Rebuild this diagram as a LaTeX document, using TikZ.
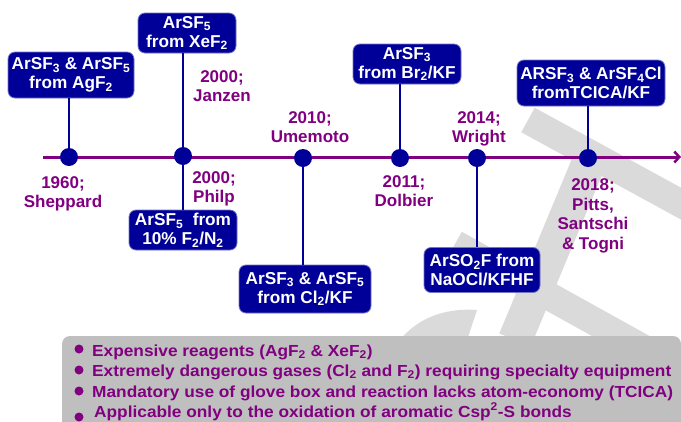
\documentclass[tikz,border=0pt]{standalone}
\usepackage{fontspec}
\setmainfont{Liberation Sans}
\newfontfamily\bulletfont{Liberation Sans}[FakeStretch=1.08]
\usetikzlibrary{arrows.meta}
\definecolor{navy}{RGB}{0,0,153}
\definecolor{purp}{RGB}{128,0,128}
\definecolor{wmgray}{RGB}{218,218,218}
\definecolor{boxgray}{RGB}{191,191,191}
\begin{document}
\begin{tikzpicture}[x=1pt,y=-1pt,
 blk/.style={fill=navy, draw=navy!55!white, line width=0.8pt, rounded corners=7pt, text=white,
   font=\bfseries\fontsize{17.2}{19}\selectfont, align=center, inner sep=0pt},
 yr/.style={text=purp, font=\bfseries\fontsize{17}{19.5}\selectfont, align=center, inner sep=0pt},
 dot/.style={circle, fill=navy, minimum size=18pt, inner sep=0pt},
 conn/.style={navy, line width=2.5pt},
 wm/.style={wmgray, line width=#1},
 bul/.style={circle, fill=purp, minimum size=9pt, inner sep=0pt},
 btxt/.style={text=purp, font=\bulletfont\bfseries\fontsize{16}{19}\selectfont, anchor=base west, inner sep=0pt}
]
\useasboundingbox (0,0) rectangle (681,421);
\clip (0,0) rectangle (681,421);
% watermark
\draw[wm=28pt] (528,120) -- (700,214);
\draw[wm=34pt] (594,150) -- (515,340);
\draw[wm=28pt] (455,244) -- (700,380);
\fill[wmgray] (400,340) .. controls (420,315) and (450,308) .. (477,310) -- (467,340) -- cycle;
% gray box
\fill[boxgray, rounded corners=8pt] (62,336) rectangle (681,440);
% timeline
\coordinate (tl0) at (43,157);
\coordinate (tl1) at (681,157);
\draw[purp, line width=3pt, -{Straight Barb[length=5pt,width=11pt,line width=2.5pt]}] (tl0) -- (tl1);
% dots
\node[dot] (d1960) at (69,157) {};
\node[dot] (d2000) at (183,156) {};
\node[dot] (d2010) at (303,158) {};
\node[dot] (d2011) at (400,158) {};
\node[dot] (d2014) at (477,158) {};
\node[dot] (d2018) at (588,158) {};
% boxes
\node[blk, minimum width=126pt, minimum height=46pt] (b1) at (71,75) {ArSF\textsubscript{3} \& ArSF\textsubscript{5}\\from AgF\textsubscript{2}};
\node[blk, minimum width=98pt, minimum height=40pt] (b2) at (187,33) {ArSF\textsubscript{5}\\from XeF\textsubscript{2}};
\node[blk, minimum width=108pt, minimum height=40pt] (b3) at (183,230) {ArSF\textsubscript{5}~ from\\10\% F\textsubscript{2}/N\textsubscript{2}};
\node[blk, minimum width=132pt, minimum height=48pt] (b4) at (305,289) {ArSF\textsubscript{3} \& ArSF\textsubscript{5}\\from Cl\textsubscript{2}/KF};
\node[blk, minimum width=108pt, minimum height=40pt] (b5) at (407,64) {ArSF\textsubscript{3}\\from Br\textsubscript{2}/KF};
\node[blk, minimum width=116pt, minimum height=45pt] (b6) at (482,270) {ArSO\textsubscript{2}F from\\NaOCl/KFHF};
\node[blk, minimum width=148pt, minimum height=46pt] (b7) at (591,83) {ARSF\textsubscript{3} \& ArSF\textsubscript{4}Cl\\fromTCICA/KF};
% connectors
\draw[conn] (b1.south -| d1960) -- (d1960.north);
\draw[conn] (b2.south -| d2000) -- (d2000.north);
\draw[conn] (d2000.south) -- (b3.north -| d2000);
\draw[conn] (d2010.south) -- (b4.north -| d2010);
\draw[conn] (b5.south -| d2011) -- (d2011.north);
\draw[conn] (d2014.south) -- (b6.north -| d2014);
\draw[conn] (b7.south -| d2018) -- (d2018.north);
% labels
\node[yr] (l1960) at (63,194) {1960;\\Sheppard};
\node[yr] (l2000a) at (222,86) {2000;\\Janzen};
\node[yr] (l2000b) at (214,189) {2000;\\Philp};
\node[yr] (l2010) at (310,127) {2010;\\Umemoto};
\node[yr] (l2011) at (404,191) {2011;\\Dolbier};
\node[yr] (l2014) at (479,129) {2014;\\Wright};
\node[yr] (l2018) at (593,216) {2018;\\Pitts,\\Santschi\\\& Togni};
% bullets
\node[bul] (u1) at (79,349) {};
\node[bul] (u2) at (79,370) {};
\node[bul] (u3) at (79,391) {};
\node[bul] (u4) at (79,417) {};
\node[btxt] (t1) at (92,356) {Expensive reagents (AgF\textsubscript{2} \& XeF\textsubscript{2})};
\node[btxt] (t2) at (92,376) {Extremely dangerous gases (Cl\textsubscript{2} and F\textsubscript{2}) requiring specialty equipment};
\node[btxt] (t3) at (92,397) {Mandatory use of glove box and reaction lacks atom-economy (TCICA)};
\node[btxt] (t4) at (94,417) {Applicable only to the oxidation of aromatic Csp\textsuperscript{2}-S bonds};
\end{tikzpicture}
\end{document}
